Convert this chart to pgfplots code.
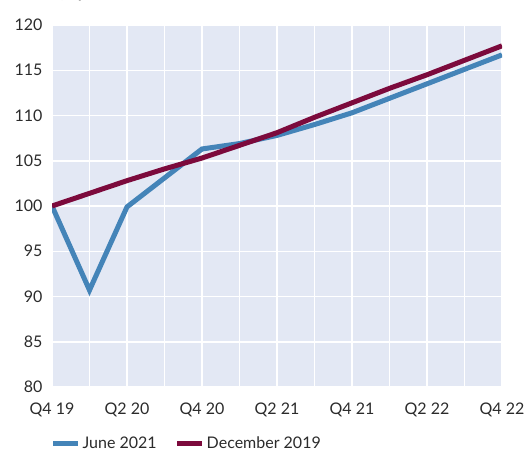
\documentclass[border=0pt]{standalone}
\usepackage{fontspec}
\setmainfont{Lato}
\usepackage{pgfplots}
\pgfplotsset{compat=1.18}
\definecolor{plotbg}{HTML}{E3E8F4}
\definecolor{juneblue}{HTML}{4484B8}
\definecolor{decred}{HTML}{7C0A3C}
\definecolor{labelgrey}{HTML}{2B2B2B}

\begin{document}
\begin{tikzpicture}[x=1pt,y=1pt]
\useasboundingbox (0,0) rectangle (525,451);
% title line, mostly cut off by the top edge
\node[anchor=base west, inner sep=0pt, text=labelgrey, font=\fontsize{16}{16}\selectfont]
  at (22,452) {Index, Q4 2019 = 100};
\begin{axis}[
  at={(52pt,64pt)}, anchor=south west,
  scale only axis, width=450pt, height=362pt,
  xmin=0, xmax=12, ymin=80, ymax=120,
  axis background/.style={fill=plotbg},
  axis line style={draw=none},
  xtick={0,...,12},
  xticklabels={Q4 19,,Q2 20,,Q4 20,,Q2 21,,Q4 21,,Q2 22,,Q4 22},
  ytick={80,85,...,120},
  grid=major, major grid style={white, line width=1.5pt},
  tick style={draw=none},
  tick label style={font=\fontsize{16}{16}\selectfont, text=labelgrey},
  /pgf/number format/assume math mode=true,
  xticklabel style={yshift=-12pt},
  yticklabel style={xshift=-6pt},
  legend columns=2,
  legend style={draw=none, fill=none, at={(axis description cs:-0.01,-0.155)},
    anchor=west, font=\fontsize{16}{16}\selectfont, text=labelgrey,
    /tikz/every even column/.append style={column sep=16pt}},
  legend image code/.code={\draw[#1, line width=5pt] (0pt,0pt) -- (25pt,0pt);},
]
\addplot[juneblue, line width=5pt, line join=miter] coordinates {
  (0,100) (1,90.7) (2,99.9) (3,103.1) (4,106.3) (5,106.9) (6,107.8)
  (7,109.0) (8,110.3) (9,111.9) (10,113.5) (11,115.1) (12,116.7)};
\addlegendentry{June 2021}
\addplot[decred, line width=5pt] coordinates {
  (0,100) (1,101.4) (2,102.8) (3,104.1) (4,105.3) (5,106.7) (6,108.1)
  (7,109.8) (8,111.4) (9,113.0) (10,114.5) (11,116.1) (12,117.7)};
\addlegendentry{December 2019}
\end{axis}
\end{tikzpicture}
\end{document}
